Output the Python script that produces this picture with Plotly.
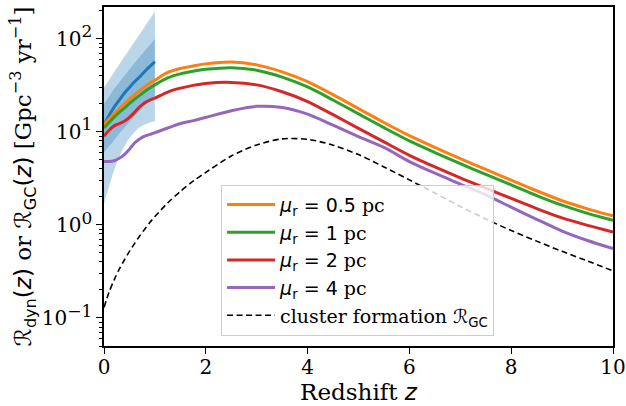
import plotly.graph_objects as go

# ---- data ----
z = [0, 0.1, 0.2, 0.3, 0.4, 0.5, 0.6, 0.7, 0.8, 0.9, 1.0, 1.25, 1.5, 1.75, 2.0,
     2.5, 3.0, 3.5, 4.0, 4.5, 5.0, 5.5, 6.0, 6.5, 7.0, 7.5, 8.0, 8.5, 9.0, 9.5, 10.0]

rate_05pc = [12.0, 13.8, 15.8, 17.8, 20.0, 22.5, 25.0, 27.8, 30.5, 33.5, 36.0, 43.5, 48.0, 51.0, 53.8,
             56.3, 52.5, 44.2, 34.7, 25.1, 17.8, 12.6, 9.1, 6.8, 5.15, 3.95, 3.03, 2.33, 1.82, 1.49, 1.25]
rate_1pc = [11.0, 12.6, 14.4, 16.2, 18.0, 20.2, 22.4, 24.7, 27.1, 29.6, 32.0, 38.0, 42.0, 44.8, 47.0,
            49.0, 46.0, 38.8, 30.4, 22.0, 15.6, 11.1, 8.0, 6.0, 4.55, 3.5, 2.7, 2.07, 1.63, 1.33, 1.12]
rate_2pc = [9.0, 10.4, 11.6, 12.3, 13.0, 14.3, 16.2, 18.6, 20.6, 22.0, 23.0, 26.8, 29.5, 31.6, 33.2,
            34.0, 32.0, 27.0, 21.2, 15.3, 10.9, 7.8, 5.6, 4.2, 3.2, 2.48, 1.93, 1.5, 1.19, 0.99, 0.84]
rate_4pc = [4.8, 4.8, 4.9, 5.2, 5.7, 6.5, 7.6, 8.4, 9.0, 9.4, 9.8, 11.0, 12.3, 13.2, 14.3,
            16.9, 18.8, 18.3, 15.5, 11.8, 8.9, 6.8, 4.8, 3.6, 2.75, 2.1, 1.55, 1.15, 0.86, 0.68, 0.556]
rate_gc = [0.13, 0.19, 0.257, 0.335, 0.42, 0.52, 0.63, 0.76, 0.90, 1.06, 1.23, 1.72, 2.29, 2.95, 3.67,
           5.5, 7.24, 8.41, 8.32, 7.2, 5.7, 4.2, 3.05, 2.2, 1.58, 1.16, 0.87, 0.67, 0.52, 0.41, 0.32]

z_obs = [0, 0.1, 0.2, 0.3, 0.4, 0.5, 0.6, 0.7, 0.8, 0.9, 1.0]
obs_median = [12.0, 15.0, 18.5, 22.0, 26.0, 30.0, 34.5, 39.0, 44.5, 50.5, 57.0]
obs_outer_low = [1.7, 2.6, 3.9, 5.4, 7.0, 8.6, 10.0, 11.2, 12.0, 12.6, 13.0]
obs_outer_high = [30, 36, 44, 53, 64, 77, 93, 112, 135, 163, 197]
obs_inner_low = [6.0, 7.0, 8.2, 9.6, 11.1, 12.8, 14.7, 16.8, 19.1, 21.6, 24.3]
obs_inner_high = [20, 24, 29, 34, 40, 47, 55, 64, 74, 86, 100]

labels = ["0.5", "1", "2", "4"]
series = [rate_05pc, rate_1pc, rate_2pc, rate_4pc]
colors = ["#ff7f0e", "#2ca02c", "#d62728", "#9467bd"]

x_ticks = [0, 2, 4, 6, 8, 10]
y_ticks = [0.1, 1, 10, 100]
y_exps = ["−1", "0", "1", "2"]
y_minor = [0.05, 0.06, 0.07, 0.08, 0.09, 0.2, 0.3, 0.4, 0.5, 0.6, 0.7, 0.8, 0.9,
           2, 3, 4, 5, 6, 7, 8, 9, 20, 30, 40, 50, 60, 70, 80, 90, 200]

SERIF = "DejaVu Serif"
SANS = "DejaVu Sans"
band = "rgba(31,119,180,0.3)"

fig = go.Figure()

# observed bands
for lo, hi in [(obs_outer_low, obs_outer_high), (obs_inner_low, obs_inner_high)]:
    fig.add_trace(go.Scatter(x=z_obs, y=lo, mode="lines", line=dict(width=0, color=band, shape="spline"),
                             showlegend=False, hoverinfo="skip"))
    fig.add_trace(go.Scatter(x=z_obs, y=hi, mode="lines", line=dict(width=0, color=band, shape="spline"),
                             fill="tonexty", fillcolor=band, showlegend=False, hoverinfo="skip"))
fig.add_trace(go.Scatter(x=z_obs, y=obs_median, mode="lines",
                         line=dict(color="#1f77b4", width=3, shape="spline"), showlegend=False))

for lab, ys, c in zip(labels, series, colors):
    name = (f'<span style="font-family:{SANS}"><i>μ</i><sub>r</sub> = {lab}</span> pc')
    fig.add_trace(go.Scatter(x=z, y=ys, mode="lines", name=name,
                             line=dict(color=c, width=3, shape="spline", smoothing=0.8)))

fig.add_trace(go.Scatter(x=z, y=rate_gc, mode="lines",
                         name='cluster formation <span style="font-family:DejaVu Sans">ℛ<sub>GC</sub></span>',
                         line=dict(color="black", width=1.6, dash="6px,3.5px", shape="spline", smoothing=0.8)))

axis_common = dict(showline=True, linecolor="black", linewidth=1.5, mirror=True,
                   ticks="outside", tickcolor="black", ticklen=6, tickwidth=1.3,
                   showgrid=False, zeroline=False, automargin=False,
                   tickfont=dict(family=SERIF, size=20, color="black"))

fig.update_xaxes(range=[0, 10], tickvals=x_ticks, ticklabelstandoff=-4,
                 title=dict(text='Redshift <span style="font-family:DejaVu Sans"><i>z</i></span>',
                            font=dict(family=SERIF, size=23, color="black"), standoff=6),
                 **axis_common)
fig.update_yaxes(type="log", range=[-1.301, 2.342], tickvals=y_ticks,
                 ticktext=[f'10<sup><span style="font-size:17px">{e}</span></sup>' for e in y_exps],
                 minor=dict(tickmode="array", tickvals=y_minor, ticks="outside", ticklen=3.5,
                            tickcolor="black", tickwidth=1, showgrid=False),
                 title=dict(text='<span style="font-family:DejaVu Sans">ℛ<sub>dyn</sub>(<i>z</i>)</span> or '
                                 '<span style="font-family:DejaVu Sans">ℛ<sub>GC</sub>(<i>z</i>)</span> '
                                 '[Gpc<sup>−3</sup> yr<sup>−1</sup>]',
                            font=dict(family=SERIF, size=23, color="black"), standoff=4),
                 **axis_common)

fig.update_layout(
    width=626, height=406,
    margin=dict(l=104, r=13, t=7, b=60),
    paper_bgcolor="white", plot_bgcolor="white",
    font=dict(family=SERIF, color="black"),
    legend=dict(x=0.23, y=0.476, xanchor="left", yanchor="top", traceorder="normal",
                bgcolor="rgba(255,255,255,0.8)", bordercolor="#cccccc", borderwidth=1,
                font=dict(family=SERIF, size=19, color="black"), itemwidth=48,
                tracegroupgap=0),
    showlegend=True,
)

fig.write_html("out.html", config={"displayModeBar": False},
               post_script="document.body.style.margin='0';document.body.style.overflow='hidden';")
